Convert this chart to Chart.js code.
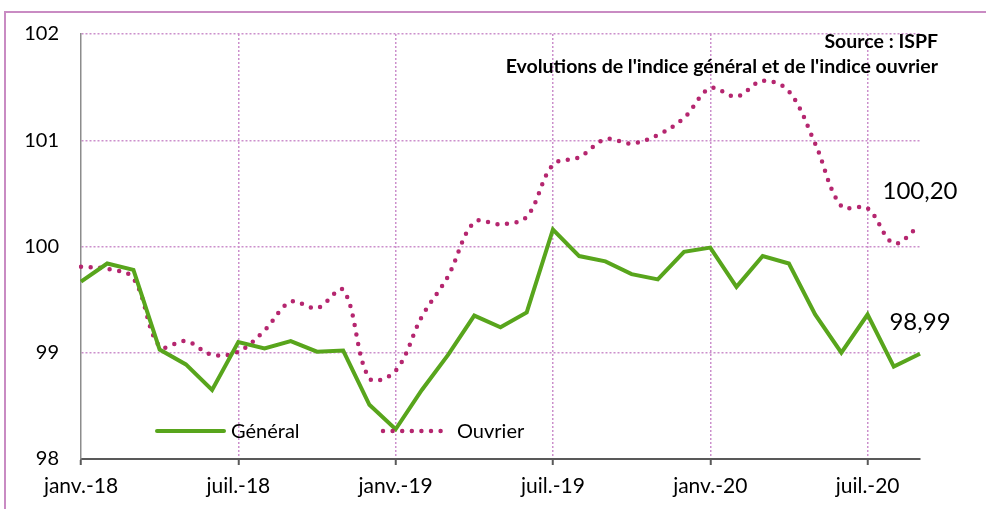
<!DOCTYPE html>
<html>
<head>
<meta charset="utf-8">
<script src="https://cdn.jsdelivr.net/npm/chart.js@4/dist/chart.umd.min.js"></script>
<style>
  html, body { margin: 0; padding: 0; background: #fff; }
  canvas { display: block; }
</style>
</head>
<body>
<canvas id="indexChart" width="986" height="509"></canvas>
<script>
const months = [
  "janv.-18", "févr.-18", "mars-18", "avr.-18", "mai-18", "juin-18",
  "juil.-18", "août-18", "sept.-18", "oct.-18", "nov.-18", "déc.-18",
  "janv.-19", "févr.-19", "mars-19", "avr.-19", "mai-19", "juin-19",
  "juil.-19", "août-19", "sept.-19", "oct.-19", "nov.-19", "déc.-19",
  "janv.-20", "févr.-20", "mars-20", "avr.-20", "mai-20", "juin-20",
  "juil.-20", "août-20", "sept.-20",
];

const generalValues = [
  99.67, 99.84, 99.78, 99.03, 98.89, 98.65, 99.10, 99.04, 99.11, 99.01, 99.02, 98.51,
  98.28, 98.65, 98.98, 99.35, 99.24, 99.38, 100.16, 99.91, 99.86, 99.74, 99.69, 99.95,
  99.99, 99.62, 99.91, 99.84, 99.36, 99.00, 99.36, 98.87, 98.99,
];

const ouvrierValues = [
  99.81, 99.79, 99.70, 99.06, 99.11, 98.98, 99.01, 99.21, 99.48, 99.42, 99.59, 98.76,
  98.83, 99.34, 99.72, 100.23, 100.21, 100.28, 100.77, 100.84, 101.01, 100.97, 101.05, 101.21,
  101.49, 101.41, 101.56, 101.46, 100.97, 100.38, 100.36, 100.03, 100.20,
];

const yTicks = [98, 99, 100, 101, 102];
const titleLines = ["Source : ISPF", "Evolutions de l'indice général et de l'indice ouvrier"];

const colors = {
  general: "#58a51c",
  ouvrier: "#b5266f",
  grid: "#cc8fcc",
  frame: "#c98bc3",
  text: "#000000",
};
const FONT = "Lato";

// frame, title, legend and end-of-series labels
const decorations = {
  id: "decorations",
  afterDraw(chart) {
    const ctx = chart.ctx;
    ctx.save();

    // outer frame (right and bottom edges fall off the picture)
    ctx.strokeStyle = colors.frame;
    ctx.lineWidth = 2;
    ctx.strokeRect(5, 12, 1000, 520);

    // title block, right aligned
    ctx.fillStyle = colors.text;
    ctx.font = `bold 19.5px ${FONT}`;
    ctx.textAlign = "right";
    ctx.textBaseline = "middle";
    ctx.fillText(titleLines[0], 938, 42);
    ctx.fillText(titleLines[1], 938, 67);

    // legend inside the plot
    ctx.lineCap = "round";
    ctx.strokeStyle = colors.general;
    ctx.lineWidth = 4;
    ctx.beginPath();
    ctx.moveTo(157, 431);
    ctx.lineTo(224, 431);
    ctx.stroke();

    ctx.strokeStyle = colors.ouvrier;
    ctx.lineWidth = 4.5;
    ctx.setLineDash([0, 9.6]);
    ctx.beginPath();
    ctx.moveTo(383, 431);
    ctx.lineTo(442, 431);
    ctx.stroke();
    ctx.setLineDash([]);

    ctx.font = `20px ${FONT}`;
    ctx.textAlign = "left";
    ctx.fillText("Général", 231, 432);
    ctx.fillText("Ouvrier", 457, 432);

    // last values
    ctx.font = `24px ${FONT}`;
    ctx.textAlign = "center";
    const last = generalValues.length - 1;
    const ptO = chart.getDatasetMeta(1).data[last];
    const ptG = chart.getDatasetMeta(0).data[last];
    ctx.fillText(ouvrierValues[last].toFixed(2).replace(".", ","), ptO.x, ptO.y - 34);
    ctx.fillText(generalValues[last].toFixed(2).replace(".", ","), ptG.x, ptG.y - 32);

    ctx.restore();
  },
};

const everySix = (i) => i % 6 === 0;

new Chart(document.getElementById("indexChart"), {
  type: "line",
  data: {
    labels: months,
    datasets: [
      {
        label: "Général",
        data: generalValues,
        borderColor: colors.general,
        borderWidth: 4,
        pointRadius: 0,
        tension: 0,
        borderJoinStyle: "miter",
      },
      {
        label: "Ouvrier",
        data: ouvrierValues,
        borderColor: colors.ouvrier,
        borderWidth: 4.5,
        borderDash: [0, 9.6],
        borderCapStyle: "round",
        pointRadius: 0,
        tension: 0.35,
      },
    ],
  },
  options: {
    responsive: false,
    animation: false,
    devicePixelRatio: 1,
    layout: { padding: { left: 0, right: 66, top: 33, bottom: 0 } },
    plugins: {
      legend: { display: false },
      tooltip: { enabled: false },
    },
    scales: {
      x: {
        offset: false,
        afterFit(scale) { scale.height = 50; },
        ticks: {
          autoSkip: false,
          maxRotation: 0,
          padding: 9,
          color: colors.text,
          font: { family: FONT, size: 21 },
          callback(value, i) {
            return everySix(i) ? months[i] : "";
          },
        },
        grid: {
          color: (c) => (c.index > 0 && everySix(c.index) ? colors.grid : "transparent"),
          tickColor: (c) => (everySix(c.index) ? "#595959" : "transparent"),
          tickLength: 6,
          tickWidth: 2,
          lineWidth: 1.5,
        },
        border: { color: "#595959", width: 2, dash: [2, 2] },
      },
      y: {
        min: yTicks[0],
        max: yTicks[yTicks.length - 1],
        afterFit(scale) { scale.width = 81; },
        afterBuildTicks(scale) {
          scale.ticks = yTicks.map((v) => ({ value: v }));
        },
        ticks: {
          padding: 22,
          color: colors.text,
          font: { family: FONT, size: 20 },
          callback: (v) => String(v),
        },
        grid: {
          color: (c) => (c.index > 0 ? colors.grid : "transparent"),
          lineWidth: 1.5,
          drawTicks: false,
        },
        border: { color: "#8c8c8c", width: 1.5, dash: [2, 2] },
      },
    },
  },
  plugins: [decorations],
});
</script>
</body>
</html>
